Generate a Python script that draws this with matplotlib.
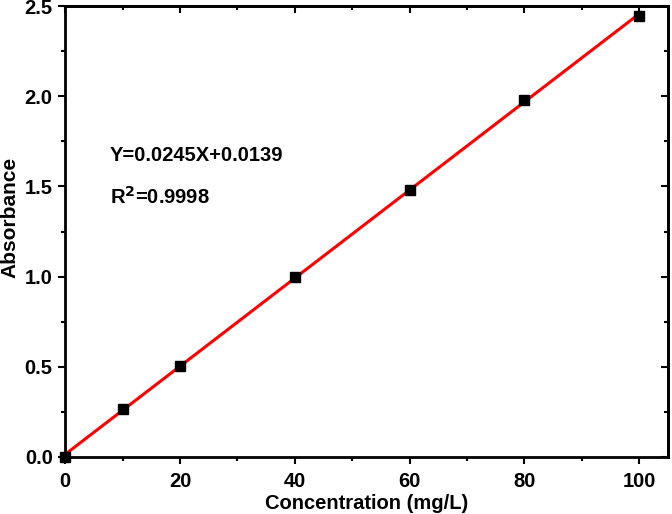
import numpy as np
import matplotlib
matplotlib.use("Agg")
import matplotlib.pyplot as plt
from matplotlib.ticker import MultipleLocator, FormatStrFormatter

plt.rcParams["font.family"] = ["Liberation Sans", "DejaVu Sans"]
plt.rcParams["font.weight"] = "bold"

# Data
concentration = [0, 10, 20, 40, 60, 80, 100]
absorbance = [0.0, 0.265, 0.505, 1.0, 1.48, 1.98, 2.445]
fit_text = "Y=0.0245X+0.0139"
r2_text = "R$^2$=0.9998"

fig = plt.figure(figsize=(6.72, 5.14), dpi=100)
ax = fig.add_axes([0.097, 0.111, 0.897, 0.877])

# linear fit line
slope, intercept = np.polyfit(concentration, absorbance, 1)
xs = np.array([concentration[0], concentration[-1]])
ax.plot(xs, slope * xs + intercept, color="red", lw=2.2, zorder=2)
ax.plot(concentration, absorbance, "s", color="black", ms=7, zorder=3, clip_on=False)

ax.set_xlim(0, 105)
ax.set_ylim(0, 2.5)
ax.xaxis.set_major_locator(MultipleLocator(20))
ax.xaxis.set_minor_locator(MultipleLocator(10))
ax.yaxis.set_major_locator(MultipleLocator(0.5))
ax.yaxis.set_minor_locator(MultipleLocator(0.25))
ax.yaxis.set_major_formatter(FormatStrFormatter("%.1f"))

ax.tick_params(which="both", width=1.5, labelsize=14.5, direction="out",
               top=False, right=False)
ax.tick_params(which="major", length=5, pad=4)
ax.tick_params(axis="x", which="major", pad=6)
ax.tick_params(which="minor", length=3)

# inward ticks on top and right
top = ax.secondary_xaxis("top")
top.set_xticks(np.arange(0, 101, 20), labels=[])
top.xaxis.set_minor_locator(MultipleLocator(10))
right = ax.secondary_yaxis("right")
right.set_yticks(np.arange(0, 2.51, 0.5), labels=[])
right.yaxis.set_minor_locator(MultipleLocator(0.25))
for sec in (top, right):
    sec.tick_params(which="both", direction="in", width=1.5)
    sec.tick_params(which="major", length=5)
    sec.tick_params(which="minor", length=3)
for s in list(ax.spines.values()) + [top.spines["top"], right.spines["right"]]:
    s.set_linewidth(2)

ax.set_xlabel("Concentration (mg/L)", fontsize=14.5, fontweight="bold", labelpad=2)
ax.set_ylabel("Absorbance", fontsize=15, fontweight="bold")
ax.yaxis.set_label_coords(-0.075, 0.532)

ax.text(7.8, 1.67, fit_text, fontsize=14.5, fontweight="bold", va="center")
ax.text(7.8, 1.44, r2_text, fontsize=14.5, fontweight="bold", va="center")

fig.savefig("out.png", dpi=100)
